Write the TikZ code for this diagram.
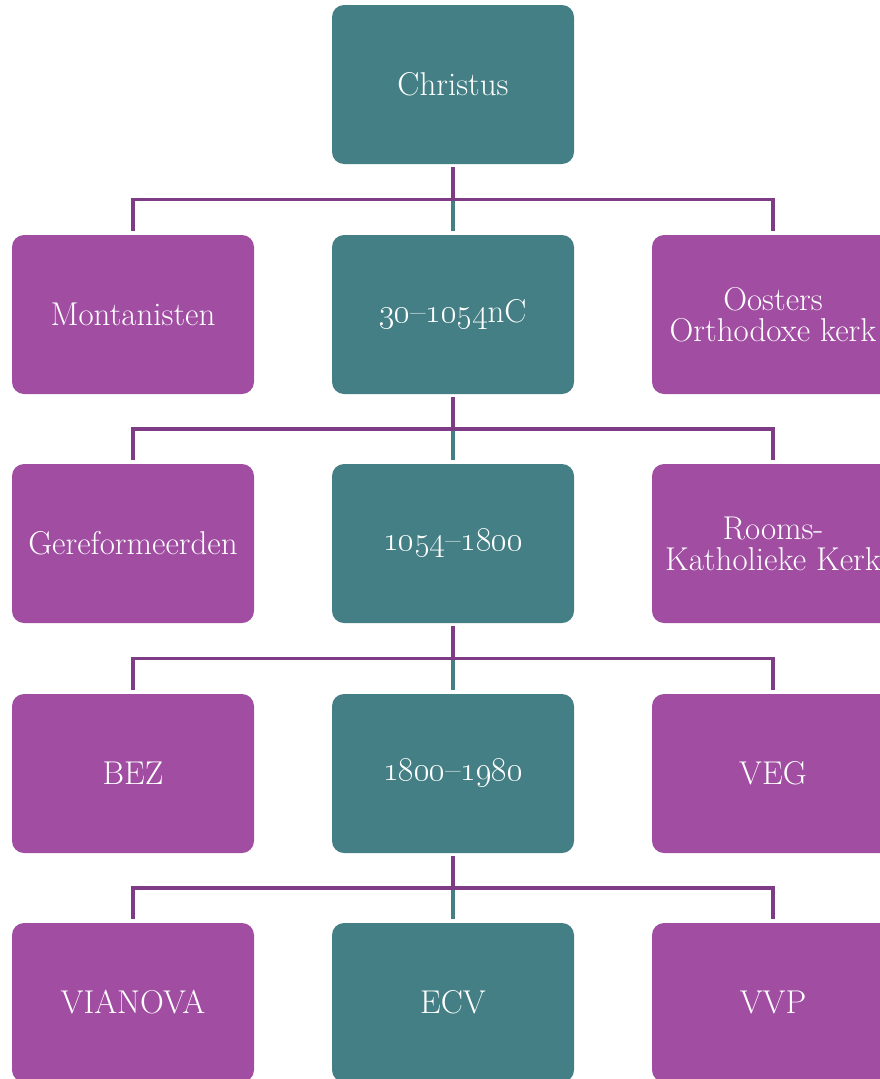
\RequirePackage{fix-cm}
\documentclass[tikz,border=0pt]{standalone}
\usetikzlibrary{calc}
\definecolor{teal1}{HTML}{437F84}
\definecolor{purp1}{HTML}{A04DA2}
\definecolor{pline}{HTML}{7D3C85}
\newcommand{\osn}[1]{\oldstylenums{#1}}
\begin{document}
\begin{tikzpicture}[x=1pt,y=-1pt,
  box/.style={rounded corners=12pt, minimum width=242pt, minimum height=159pt,
    inner sep=0pt, text=white, align=center,
    font=\fontsize{33}{31}\selectfont},
  tbox/.style={box, fill=teal1},
  pbox/.style={box, fill=purp1},
  pl/.style={draw=pline, line width=3.2pt, line join=miter},
  tl/.style={draw=teal1, line width=3.2pt}]
\useasboundingbox (0,0) rectangle (879,1079);
\node[tbox] (c0) at (453,84.5) {Christus};
\node[pbox] (l1) at (133,314.5) {Montanisten};
\node[tbox] (m1) at (453,314.5) {\osn{30}--\osn{1054}nC};
\node[pbox] (r1) at (773,314.5) {Oosters\\Orthodoxe kerk};
\node[pbox] (l2) at (133,543.5) {Gereformeerden};
\node[tbox] (m2) at (453,543.5) {\osn{1054}--\osn{1800}};
\node[pbox] (r2) at (773,543.5) {Rooms-\\Katholieke Kerk};
\node[pbox] (l3) at (133,773.5) {BEZ};
\node[tbox] (m3) at (453,773.5) {\osn{1800}--\osn{1980}};
\node[pbox] (r3) at (773,773.5) {VEG};
\node[pbox] (l4) at (133,1002.5) {VIANOVA};
\node[tbox] (m4) at (453,1002.5) {ECV};
\node[pbox] (r4) at (773,1002.5) {VVP};
\foreach \p/\i in {c0/1,m1/2,m2/3,m3/4}{
  \path (\p.south) -- (m\i.north) coordinate[pos=0.5] (j\i);
  \draw[tl] (j\i) -- ([yshift=4pt]m\i.north);
  \draw[pl] ([yshift=-3pt]\p.south) -- (j\i);
  \draw[pl] ([yshift=4pt]l\i.north) |- (j\i) -| ([yshift=4pt]r\i.north);
}
\end{tikzpicture}
\end{document}
